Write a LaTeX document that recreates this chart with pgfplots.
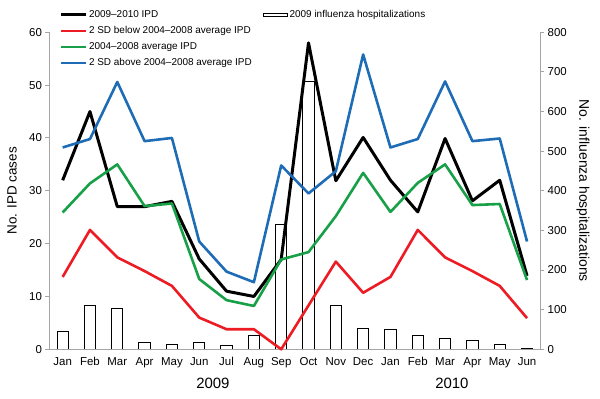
\documentclass[border=0pt]{standalone}
\usepackage{pgfplots}
\pgfplotsset{compat=1.18}
\usepackage{fontspec}
\setmainfont{Liberation Sans}
\definecolor{ipdred}{RGB}{237,28,36}
\definecolor{ipdgreen}{RGB}{24,160,72}
\definecolor{ipdblue}{RGB}{30,108,182}
\definecolor{axgray}{RGB}{165,165,165}

\pgfplotstableread{
x black red green blue
0  32   13.7 25.9 38.2
1  45   22.6 31.4 39.8
2  27   17.4 35.0 50.6
3  27   14.8 27.1 39.4
4  28   12.0 27.6 40.0
5  17.1 6.0  13.3 20.4
6  11.0 3.8  9.3  14.7
7  10.0 3.8  8.2  12.7
8  17.0 0.0  17.0 34.8
9  58.0 8.3  18.4 29.5
10 31.9 16.6 25.2 33.7
11 40.1 10.7 33.4 55.8
12 32.0 13.7 26.0 38.2
13 26.0 22.6 31.5 39.8
14 39.9 17.4 35.0 50.7
15 28.1 14.8 27.3 39.4
16 32.0 12.0 27.5 39.9
17 13.9 5.9  13.1 20.4
}\ipd

\pgfplotstableread{
x hosp
0  44
1  110
2  102
3  18
4  13
5  17
6  9
7  36
8  316
9  676
10 110
11 52
12 50
13 34
14 27
15 21
16 12
17 3
}\flu

\begin{document}
\begin{tikzpicture}
% bars on right axis
\begin{axis}[
  scale only axis, width=491.7bp, height=317bp,
  xmin=-0.5, xmax=17.5, ymin=0, ymax=800,
  axis x line=none, axis y line*=right,
  axis line style={draw=axgray, line width=1bp},
  ytick={0,100,...,800},
  tick align=outside, major tick length=3.5bp,
  ytick style={draw=axgray, line width=1bp},
  /pgf/number format/assume math mode=true,
  yticklabel style={font=\fontsize{11.5}{13}\selectfont},
  ylabel={No. influenza hospitalizations},
  ylabel style={at={(axis description cs:1.086,0.5)}, anchor=center, rotate=-180, font=\fontsize{14}{16}\selectfont},
  legend image code/.code={\draw[#1] (0bp,-1.8bp) rectangle (24bp,1.8bp);},
  legend style={at={(axis description cs:0.435,1.074)}, anchor=north west, draw=none, fill=none, inner sep=0pt,
    nodes={inner sep=1.5bp}, font=\fontsize{10}{12}\selectfont},
]
\addplot[ybar, bar width=11.3bp, draw=black, fill=white, line width=1bp] table[x=x,y=hosp] {\flu};
\addlegendentry{2009 influenza hospitalizations}
\end{axis}
% lines on left axis
\begin{axis}[
  name=main,
  scale only axis, width=491.7bp, height=317bp,
  xmin=-0.5, xmax=17.5, ymin=0, ymax=60,
  clip=false,
  axis x line*=bottom, axis y line*=left,
  axis line style={draw=axgray, line width=1bp},
  xtick={0,...,17},
  xticklabels={Jan,Feb,Mar,Apr,May,Jun,Jul,Aug,Sep,Oct,Nov,Dec,Jan,Feb,Mar,Apr,May,Jun},
  xtick style={draw=none},
  ytick={0,10,...,60},
  tick align=outside, major tick length=3.5bp,
  ytick style={draw=axgray, line width=1bp},
  /pgf/number format/assume math mode=true,
  yticklabel style={font=\fontsize{11.5}{13}\selectfont},
  xticklabel style={font=\fontsize{11.5}{13}\selectfont, yshift=-1bp},
  ylabel={No. IPD cases},
  ylabel style={at={(axis description cs:-0.075,0.5)}, anchor=center, font=\fontsize{13.5}{16}\selectfont},
  legend image code/.code={\draw[#1] (0bp,0bp) -- (25bp,0bp);},
  legend style={at={(axis description cs:0.021,1.074)}, anchor=north west, draw=none, fill=none, inner sep=0pt,
    nodes={inner sep=1.5bp}, row sep=4.5bp, font=\fontsize{10}{12}\selectfont},
  legend cell align=left,
  every axis plot/.append style={line join=round},
]
\addplot[black, line width=3bp] table[x=x,y=black] {\ipd};
\addlegendentry{2009--2010 IPD}
\addplot[ipdred, line width=2.6bp] table[x=x,y=red] {\ipd};
\addlegendentry{2 SD below 2004--2008 average IPD}
\addplot[ipdgreen, line width=2.6bp] table[x=x,y=green] {\ipd};
\addlegendentry{2004--2008 average IPD}
\addplot[ipdblue, line width=2.6bp] table[x=x,y=blue] {\ipd};
\addlegendentry{2 SD above 2004--2008 average IPD}
\node[font=\fontsize{15}{17}\selectfont] at (axis cs:5.5,0) [yshift=-33.7bp] {2009};
\node[font=\fontsize{15}{17}\selectfont] at (axis cs:14.25,0) [yshift=-33.7bp] {2010};
\end{axis}
\path (main.south west) ++(-49bp,-49.7bp) rectangle ++(600bp,399bp);
\end{tikzpicture}
\end{document}
